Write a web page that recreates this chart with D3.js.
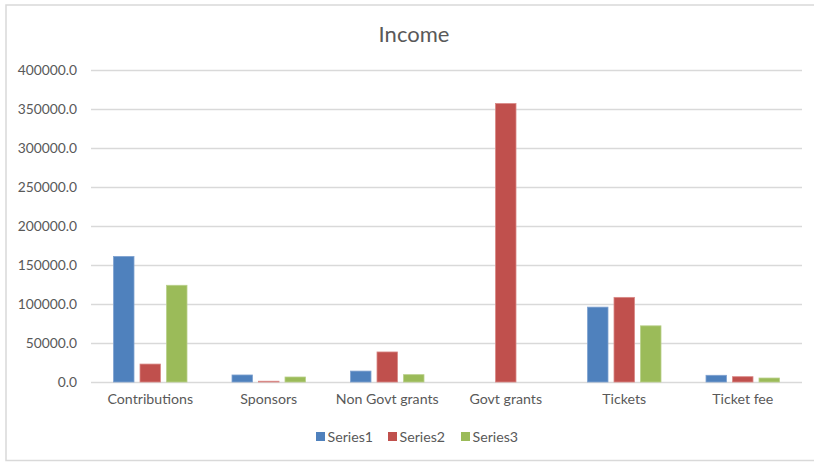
<!DOCTYPE html>
<html>
<head>
<meta charset="utf-8">
<script src="https://cdn.jsdelivr.net/npm/d3@7/dist/d3.min.js"></script>
<style>
  html, body { margin: 0; padding: 0; background: #fff; }
  svg { display: block; }
  text { font-family: Lato, "Open Sans", sans-serif; fill: #595959; }
</style>
</head>
<body>
<svg id="chart" width="814" height="462"></svg>
<script>
const categories = ["Contributions", "Sponsors", "Non Govt grants", "Govt grants", "Tickets", "Ticket fee"];
const seriesNames = ["Series1", "Series2", "Series3"];
const series1 = [161000, 9000, 14000, 0, 96000, 8600];
const series2 = [23000, 1000, 38500, 357000, 108500, 6800];
const series3 = [124000, 6400, 9400, 0, 72000, 5100];
const yTicks = [0, 50000, 100000, 150000, 200000, 250000, 300000, 350000, 400000];
const colors = ["#4F81BD", "#C0504D", "#9BBB59"];
const strokeColors = ["#7FA2D0", "#D98886", "#B9D08A"];
const chartTitle = "Income";

(function () {
const seriesValues = [series1, series2, series3];
const svg = d3.select("#chart");

// chart border
svg.append("rect")
  .attr("x", 6).attr("y", 5)
  .attr("width", 820).attr("height", 455.5)
  .attr("fill", "none").attr("stroke", "#D9D9D9").attr("stroke-width", 1.5);

const pLeft = 91, pRight = 802, pTop = 70, pBottom = 382;

const y = d3.scaleLinear().domain([0, 400000]).range([pBottom, pTop]);
const x0 = d3.scaleBand().domain(categories).range([pLeft, pRight]).paddingInner(0).paddingOuter(0);
const x1 = d3.scaleBand().domain(seriesNames).range([0, x0.bandwidth()])
  .paddingInner(0.2264).paddingOuter(0.849);

// gridlines
svg.append("g").selectAll("line").data(yTicks).join("line")
  .attr("x1", pLeft).attr("x2", pRight)
  .attr("y1", d => Math.round(y(d)) + 0.5).attr("y2", d => Math.round(y(d)) + 0.5)
  .attr("stroke", "#D9D9D9").attr("stroke-width", 1.3);

// y axis labels
const yAxis = d3.axisLeft(y).tickValues(yTicks).tickFormat(d3.format(".1f")).tickSize(0).tickPadding(0);
const yg = svg.append("g").attr("transform", `translate(${pLeft - 14},0)`).call(yAxis);
yg.select(".domain").remove();
yg.selectAll("text").style("font-size", "13.8px").attr("fill", "#595959")
  .style("font-family", "Lato, 'Open Sans', sans-serif");

// bars
const groups = svg.append("g").selectAll("g").data(categories).join("g")
  .attr("transform", d => `translate(${x0(d)},0)`);
groups.selectAll("rect")
  .data((c, ci) => seriesNames.map((s, si) => ({ s, si, v: seriesValues[si][ci] })).filter(d => d.v > 0))
  .join("rect")
  .attr("x", d => x1(d.s))
  .attr("width", x1.bandwidth())
  .attr("y", d => y(d.v))
  .attr("height", d => pBottom - y(d.v))
  .attr("fill", d => colors[d.si])
  .attr("stroke", d => strokeColors[d.si])
  .attr("stroke-width", 0.8);

// x axis labels
const xAxis = d3.axisBottom(x0).tickSize(0).tickPadding(0);
const xg = svg.append("g").attr("transform", `translate(0,${pBottom + 12})`).call(xAxis);
xg.select(".domain").remove();
xg.selectAll("text").style("font-size", "14.2px").attr("fill", "#595959")
  .style("font-family", "Lato, 'Open Sans', sans-serif");

// title
svg.append("text").attr("x", 414).attr("y", 42).attr("text-anchor", "middle")
  .style("font-size", "22px").text(chartTitle);

// legend
const legendX = [316, 388, 461];
const lg = svg.append("g").selectAll("g").data(seriesNames).join("g")
  .attr("transform", (d, i) => `translate(${legendX[i]},432)`);
lg.append("rect").attr("width", 9).attr("height", 9).attr("fill", (d, i) => colors[i]);
lg.append("text").attr("x", 11.5).attr("y", 9.5).style("font-size", "14.2px").text(d => d);
})();
</script>
</body>
</html>
